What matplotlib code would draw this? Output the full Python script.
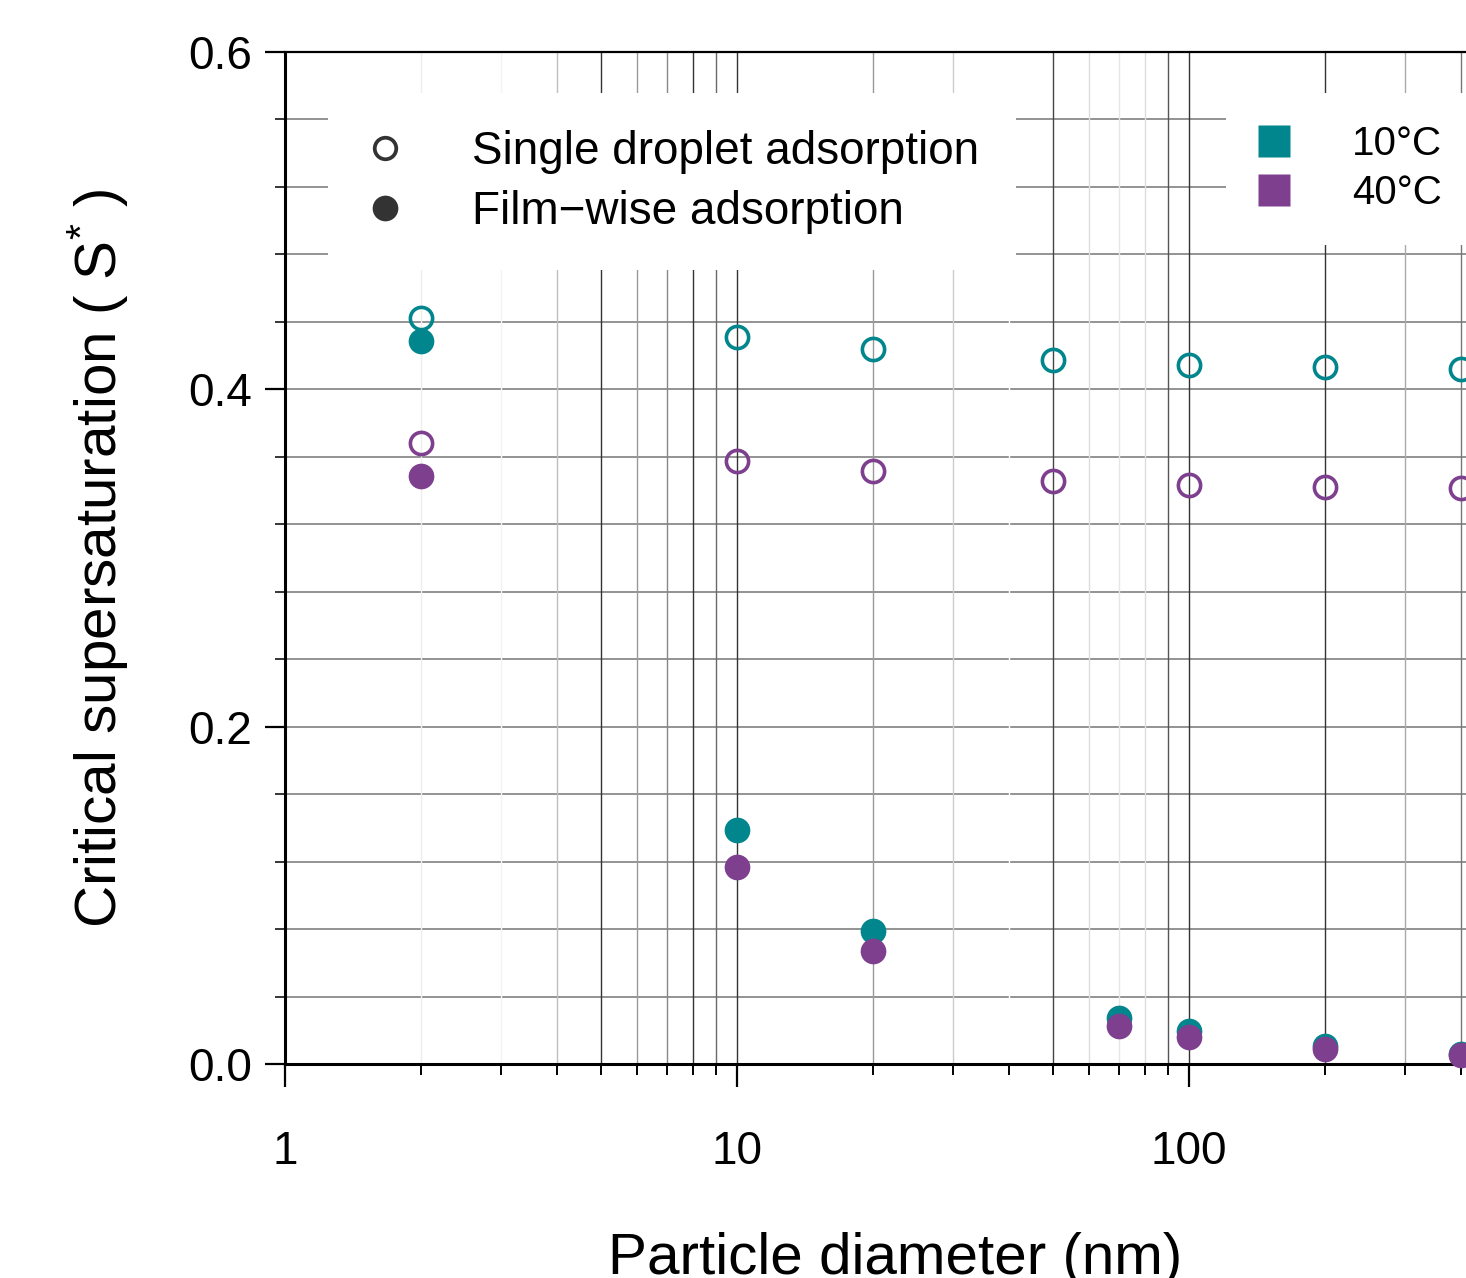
import matplotlib
matplotlib.use('Agg')
import matplotlib.pyplot as plt
from matplotlib.lines import Line2D
from matplotlib.ticker import FixedLocator, MultipleLocator, NullFormatter, LogLocator

plt.rcParams['font.family'] = ['Liberation Sans', 'DejaVu Sans']
plt.rcParams['mathtext.fontset'] = 'custom'
plt.rcParams['mathtext.rm'] = 'Liberation Sans'
plt.rcParams['mathtext.it'] = 'Liberation Sans:italic'

# ---------------- data ----------------
diam_single = [2, 10, 20, 50, 100, 200, 400]
single_10C = [0.442, 0.431, 0.424, 0.4175, 0.4145, 0.413, 0.412]
single_40C = [0.368, 0.3575, 0.3515, 0.3455, 0.343, 0.342, 0.3415]
diam_film = [2, 10, 20, 70, 100, 200, 400]
film_10C = [0.4285, 0.139, 0.079, 0.027, 0.0195, 0.0105, 0.006]
film_40C = [0.3485, 0.117, 0.067, 0.0225, 0.016, 0.009, 0.0053]

x_major = [1, 10, 100]
x_major_labels = ['1', '10', '100']
y_major = [0.0, 0.2, 0.4, 0.6]
y_major_labels = ['0.0', '0.2', '0.4', '0.6']

temp_labels = ['10°C', '40°C']
mode_labels = ['Single droplet adsorption', 'Film\u2212wise adsorption']

TEAL = '#00868C'
PURPLE = '#7E3F8F'
DARK = '#333333'

# shades of the vertical grid lines, keyed by tick value
grid_shade = {2: '#eeeeee', 3: '#f3f3f3', 4: '#bdbdbd', 5: '#333333', 6: '#9a9a9a',
              7: '#888888', 8: '#333333', 9: '#6a6a6a', 10: '#333333',
              20: '#999999', 30: '#cccccc', 40: '#ffffff', 50: '#444444', 60: '#dddddd',
              70: '#e6e6e6', 80: '#dddddd', 90: '#555555', 100: '#333333',
              200: '#333333', 300: '#aaaaaa', 400: '#777777', 500: '#ffffff'}

fig = plt.figure(figsize=(14.66, 12.78), dpi=100)
ax = fig.add_axes([285/1466, 1 - 1064/1278, 1220/1466, 1012/1278])

ax.set_xscale('log')
ax.set_xlim(1, 500)
ax.set_ylim(0, 0.6)

ax.xaxis.set_major_locator(FixedLocator(x_major))
ax.set_xticklabels(x_major_labels)
ax.xaxis.set_minor_locator(LogLocator(base=10, subs=range(2, 10)))
ax.xaxis.set_minor_formatter(NullFormatter())
ax.yaxis.set_major_locator(FixedLocator(y_major))
ax.set_yticklabels(y_major_labels)
ax.yaxis.set_minor_locator(MultipleLocator(0.04))

ax.set_axisbelow(True)
ax.yaxis.grid(True, which='both', color='#808080', lw=1.2, zorder=0.5)

# vertical grid lines at every tick position with their own shade
for loc in list(ax.xaxis.get_majorticklocs()) + list(ax.xaxis.get_minorticklocs()):
    key = int(round(loc))
    if 1 < loc <= 500 and key in grid_shade:
        ax.axvline(loc, color=grid_shade[key], lw=1.0, zorder=0.6)

# data
ms_open, ms_fill = 16, 18.5
ax.plot(diam_single, single_10C, 'o', ls='', mfc='none', mec=TEAL, ms=ms_open, mew=2.6, zorder=3, clip_on=False)
ax.plot(diam_single, single_40C, 'o', ls='', mfc='none', mec=PURPLE, ms=ms_open, mew=2.6, zorder=3, clip_on=False)
ax.plot(diam_film, film_10C, 'o', ls='', mfc=TEAL, mec='none', ms=ms_fill, zorder=3.1, clip_on=False)
ax.plot(diam_film, film_40C, 'o', ls='', mfc=PURPLE, mec='none', ms=ms_fill, zorder=3.2, clip_on=False)

# spines and ticks
for s in ['left', 'bottom']:
    ax.spines[s].set_linewidth(2.2)
ax.spines['top'].set_linewidth(1.6)
ax.spines['right'].set_visible(False)

ax.tick_params(axis='y', which='major', direction='out', length=14.5, width=1.6, pad=9, labelsize=33, color='black')
ax.tick_params(axis='y', which='minor', direction='out', length=7.5, width=1.1, color='black')
ax.tick_params(axis='x', which='major', direction='out', length=16.5, width=1.6, pad=31, labelsize=33, color='black')
ax.tick_params(axis='x', which='minor', direction='out', length=8, width=1.4, color='black')

ax.set_xlabel('Particle diameter (nm)', fontsize=42, labelpad=42)
ax.set_ylabel('Critical supersaturation ( S$^{*}$ )', fontsize=42, labelpad=42)

# legends
h_mode = [Line2D([], [], marker='o', ls='', mfc='white', mec=DARK, ms=15.5, mew=2.7),
          Line2D([], [], marker='o', ls='', mfc=DARK, mec='none', ms=18.5)]
leg1 = ax.legend(h_mode, mode_labels, loc='upper left', bbox_to_anchor=((328-285)/1220, (1064-93)/1012),
                 borderaxespad=0, frameon=True, fancybox=False, framealpha=1, edgecolor='none',
                 facecolor='white', fontsize=33, handlelength=0.87, handletextpad=1.48,
                 borderpad=0.8, labelspacing=0.35)
ax.add_artist(leg1)

h_temp = [Line2D([], [], marker='s', ls='', mfc=TEAL, mec='none', ms=23),
          Line2D([], [], marker='s', ls='', mfc=PURPLE, mec='none', ms=23)]
leg2 = ax.legend(h_temp, temp_labels, loc='upper left', bbox_to_anchor=((1226-285)/1220, (1064-93)/1012),
                 borderaxespad=0, frameon=True, fancybox=False, framealpha=1, edgecolor='none',
                 facecolor='white', fontsize=29, handlelength=0.79, handletextpad=1.54,
                 borderpad=0.8, labelspacing=0.28)

fig.savefig('out.png', dpi=100)
